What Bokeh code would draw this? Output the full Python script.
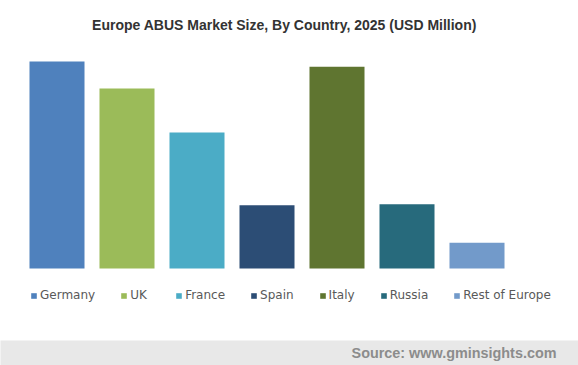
from bokeh.plotting import figure
from bokeh.models import ColumnDataSource, Range1d, Legend, Label, BoxAnnotation
from bokeh.embed import file_html
from bokeh.resources import INLINE

# ---- data ----
countries = ["Germany", "UK", "France", "Spain", "Italy", "Russia", "Rest of Europe"]
values = [40.0, 34.8, 26.3, 12.2, 39.0, 12.4, 5.0]
colors = ["#4f81bd", "#9bbb59", "#4bacc6", "#2c4d75", "#5f7530", "#276a7c", "#729aca"]
title_text = "Europe ABUS Market Size, By Country, 2025 (USD Million)"
source_text = "Source: www.gminsights.com"

# ---- layout constants ----
W, H = 578, 365
px_per_cat = 70.0
first_center = 56.5      # px from figure left
px_per_unit = 5.175
baseline_px = 268.0      # px from figure top

x_start = -first_center / px_per_cat
x_end = (W - first_center) / px_per_cat
y_end = baseline_px / px_per_unit
y_start = -(H - baseline_px) / px_per_unit

src = ColumnDataSource(dict(x=list(range(len(countries))), top=values,
                            color=colors, country=countries))

p = figure(width=W, height=H, output_backend="svg", toolbar_location=None,
           x_range=Range1d(x_start, x_end), y_range=Range1d(y_start, y_end),
           x_axis_location=None, y_axis_location=None, min_border=0,
           tools="")
p.outline_line_color = None
p.xgrid.visible = False
p.ygrid.visible = False
p.background_fill_color = "white"
p.border_fill_color = "white"

# footer band
band_top = -(340 - baseline_px) / px_per_unit
p.add_layout(BoxAnnotation(left=x_start - 1, right=x_end + 1, bottom=y_start - 1, top=band_top,
                           fill_color="#e8e8e8", fill_alpha=1.0, line_color=None,
                           level="underlay"))

r = p.vbar(x="x", top="top", bottom=0, width=0.786, color="color", line_color=None,
           source=src, legend_field="country")

leg = p.legend[0]
legend = Legend(items=leg.items, orientation="horizontal", location=(30, 63),
                glyph_width=7, glyph_height=7, label_standoff=3, spacing=25,
                padding=0, margin=0, border_line_color=None,
                background_fill_alpha=0, label_text_font="DejaVu Sans",
                label_text_font_size="12px", label_text_color="#595959",
                label_height=14)
p.center.remove(leg)
p.add_layout(legend)

p.add_layout(Label(x=284, y=H - 24, x_units="screen", y_units="screen",
                   text=title_text, text_align="center", text_baseline="middle",
                   text_font="Liberation Sans", text_font_style="bold",
                   text_font_size="14px", text_color="#333333"))
p.add_layout(Label(x=556, y=H - 352, x_units="screen", y_units="screen",
                   text=source_text, text_align="right", text_baseline="middle",
                   text_font="Liberation Sans", text_font_style="bold",
                   text_font_size="14.4px", text_color="#8c8c8c"))

open("out.html", "w").write(file_html(p, INLINE))
